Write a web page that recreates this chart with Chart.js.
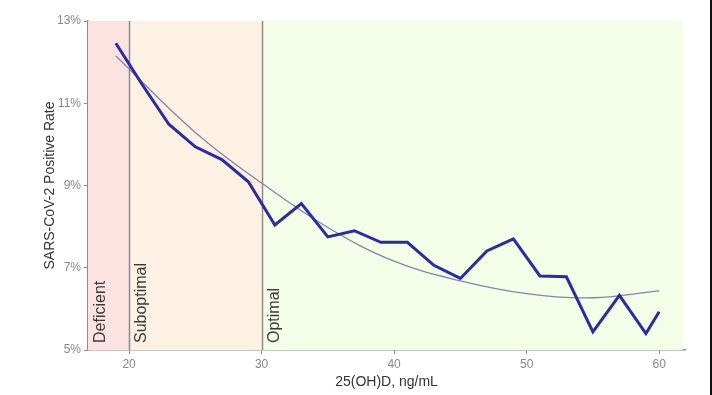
<!DOCTYPE html>
<html>
<head>
<meta charset="utf-8">
<script src="https://cdn.jsdelivr.net/npm/chart.js@4.4.1/dist/chart.umd.min.js"></script>
<style>
  html, body { margin: 0; padding: 0; background: #ffffff; }
  #wrap { width: 712px; height: 395px; position: relative; }
</style>
</head>
<body>
<div id="wrap"><canvas id="c" width="712" height="395"></canvas></div>
<script>
// ---- data ----
const vitD = [19, 21, 23, 25, 27, 29, 31, 33, 35, 37, 39, 41, 43, 45, 47, 49, 51, 53, 55, 57, 59, 60];
const positiveRate = [12.46, 11.45, 10.49, 9.94, 9.63, 9.09, 8.04, 8.56, 7.75, 7.90, 7.62, 7.62, 7.06, 6.74, 7.41, 7.70, 6.80, 6.78, 5.44, 6.33, 5.40, 5.93];
const fitX = [19, 25, 30, 35, 40, 45, 50, 55, 60];
const fitY = [12.15, 10.29, 9.06, 7.98, 7.16, 6.68, 6.37, 6.27, 6.44];
const xTicks = [20, 30, 40, 50, 60];
const yTicks = [5, 7, 9, 11, 13];
const zoneNames = ['Deficient', 'Suboptimal', 'Optimal'];
const zoneStarts = [null, 20, 30];   // null = left edge of plot
const zoneColors = ['#fde2e2', '#fdf1e4', '#f4fde8'];

const FONT = "'Liberation Sans', Arial, sans-serif";

const zonesPlugin = {
  id: 'zones',
  beforeDatasetsDraw(chart) {
    const { ctx, chartArea: a, scales: { x } } = chart;
    ctx.save();
    const edges = zoneStarts.map(v => v === null ? a.left : x.getPixelForValue(v));
    edges.push(a.right - 2);
    for (let i = 0; i < zoneNames.length; i++) {
      ctx.fillStyle = zoneColors[i];
      ctx.fillRect(edges[i], a.top, edges[i + 1] - edges[i], a.bottom - a.top);
    }
    ctx.strokeStyle = '#8c8c8c';
    ctx.lineWidth = 1.5;
    for (let i = 1; i < zoneStarts.length; i++) {
      const px = Math.round(edges[i]) + 0.5;
      ctx.beginPath();
      ctx.moveTo(px, a.top);
      ctx.lineTo(px, a.bottom);
      ctx.stroke();
    }
    ctx.fillStyle = '#3a3a3a';
    ctx.font = '16px ' + FONT;
    ctx.textAlign = 'left';
    ctx.textBaseline = 'top';
    for (let i = 0; i < zoneNames.length; i++) {
      ctx.save();
      ctx.translate(edges[i] + 5, a.bottom - 7);
      ctx.rotate(-Math.PI / 2);
      ctx.fillText(zoneNames[i], 0, 0);
      ctx.restore();
    }
    ctx.restore();
  },
  afterDraw(chart) {
    const { ctx } = chart;
    ctx.save();
    ctx.fillStyle = '#111';
    ctx.fillRect(710, 0, 2, 395);
    ctx.restore();
  }
};

new Chart(document.getElementById('c'), {
  type: 'scatter',
  data: {
    datasets: [
      {
        label: 'Positive rate',
        data: vitD.map((v, i) => ({ x: v, y: positiveRate[i] })),
        showLine: true,
        borderColor: '#2b2c9e',
        borderWidth: 3,
        pointRadius: 0,
        tension: 0,
        order: 1
      },
      {
        label: 'Fit',
        data: fitX.map((v, i) => ({ x: v, y: fitY[i] })),
        showLine: true,
        borderColor: '#8585a8',
        borderWidth: 1.3,
        pointRadius: 0,
        tension: 0.4,
        order: 2
      }
    ]
  },
  options: {
    responsive: false,
    animation: false,
    layout: { padding: { left: 38, right: 27, top: 21, bottom: 0 } },
    plugins: { legend: { display: false }, tooltip: { enabled: false } },
    scales: {
      x: {
        type: 'linear',
        min: 16.9,
        max: 61.95,
        afterBuildTicks: s => { s.ticks = xTicks.map(v => ({ value: v })); },
        afterFit: s => { s.height = 45; },
        grid: { display: true, drawOnChartArea: false, drawTicks: true, tickLength: 4, color: '#8c8c8c' },
        border: { display: true, color: '#8c8c8c', width: 1.5 },
        ticks: { color: '#888', font: { family: FONT, size: 12 }, padding: 3, maxRotation: 0 },
        title: { display: true, text: '25(OH)D, ng/mL', color: '#333', font: { family: FONT, size: 14 }, padding: { top: 0, bottom: 4 } }
      },
      y: {
        min: 5,
        max: 13,
        afterBuildTicks: s => { s.ticks = yTicks.map(v => ({ value: v })); },
        afterFit: s => { s.width = 50; },
        grid: { display: true, drawOnChartArea: false, drawTicks: true, tickLength: 4, color: '#8c8c8c' },
        border: { display: true, color: '#8c8c8c', width: 1.5 },
        ticks: { color: '#888', font: { family: FONT, size: 12 }, padding: 3, callback: v => v + '%' },
        title: { display: true, text: 'SARS-CoV-2 Positive Rate', color: '#333', font: { family: FONT, size: 14 }, padding: 4 }
      }
    }
  },
  plugins: [zonesPlugin]
});
</script>
</body>
</html>
